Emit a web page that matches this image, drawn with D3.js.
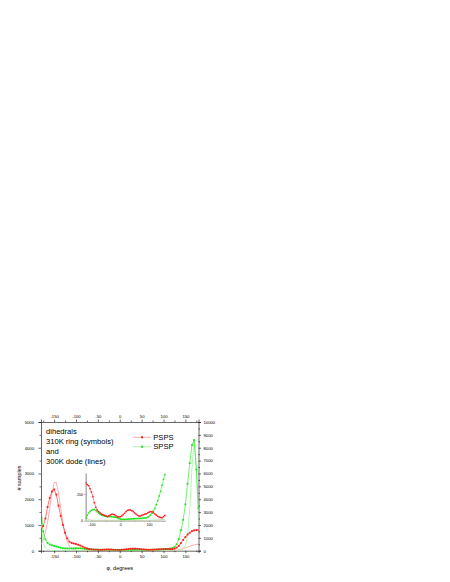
<!DOCTYPE html>
<html>
<head>
<meta charset="utf-8">
<script src="https://cdn.jsdelivr.net/npm/d3@7"></script>
<style>
  body { margin: 0; background: #fff; }
  svg { display: block; font-family: "Liberation Sans", Arial, sans-serif; }
</style>
</head>
<body>
<div id="chart"></div>
<script>
// dihedral angle grid, 5 degree bins
const phi = d3.range(-180, 181, 5);

// 310K ring, symbols
const ringPSPS = [
  800, 960, 1250, 1700, 2050, 2300, 2380, 2180, 1750, 1350,
  1000, 700, 480, 350, 300, 280, 260, 230, 200, 160,
  120, 90, 65, 50, 45, 40, 35, 30, 35, 42,
  48, 48, 44, 36, 30, 28, 30, 36, 45, 55,
  68, 77, 80, 80, 75, 68, 58, 48, 40, 35,
  35, 40, 45, 48, 52, 58, 64, 68, 67, 60,
  60, 80, 120, 190, 300, 420, 530, 630, 700, 760,
  790, 800, 800
];
const ringSPSP = [
  1650, 750, 440, 300, 240, 210, 180, 160, 140, 115,
  95, 90, 85, 85, 88, 92, 96, 96, 92, 84,
  74, 64, 56, 50, 45, 42, 40, 38, 37, 36,
  40, 40, 38, 36, 34, 32, 30, 30, 30, 30,
  30, 32, 34, 35, 36, 36, 36, 36, 36, 36,
  36, 38, 40, 42, 45, 50, 55, 62, 70, 85,
  100, 150, 250, 450, 800, 1200, 1800, 2600, 3400, 4100,
  4300, 3150, 1650
];

// 300K dode, lines
const dodePSPS = [
  250, 420, 700, 1100, 1650, 2250, 2650, 2650, 2250, 1650,
  1100, 650, 350, 180, 90, 45, 25, 15, 10, 8,
  6, 5, 5, 5, 5, 5, 5, 5, 5, 5,
  5, 5, 5, 5, 5, 5, 5, 5, 5, 5,
  5, 5, 5, 5, 5, 5, 5, 5, 5, 5,
  5, 5, 5, 5, 5, 5, 5, 6, 8, 10,
  12, 15, 22, 35, 55, 80, 110, 140, 170, 200,
  225, 245, 250
];
const dodeSPSP = [
  1100, 320, 110, 40, 15, 8, 5, 5, 5, 5,
  5, 5, 5, 5, 5, 5, 5, 5, 5, 5,
  5, 5, 5, 5, 5, 5, 5, 5, 5, 5,
  5, 5, 5, 5, 5, 5, 5, 5, 5, 5,
  5, 5, 5, 5, 5, 5, 5, 5, 5, 5,
  5, 5, 5, 5, 5, 5, 5, 5, 5, 5,
  5, 8, 12, 20, 30, 60, 200, 600, 1600, 3200,
  4300, 3300, 1100
];

// inset (zoom on the low counts)
const insetPhi = d3.range(-120, 156, 5);
const insetPSPS = [
  285, 270, 262, 240, 215, 180, 135, 100, 80, 68,
  58, 50, 45, 40, 35, 30, 35, 42, 48, 48,
  44, 36, 30, 28, 30, 36, 45, 55, 68, 77,
  80, 80, 75, 68, 58, 48, 40, 35, 35, 40,
  45, 48, 52, 58, 64, 68, 67, 60, 50, 42,
  33, 28, 24, 22, 30, 40
];
const insetSPSP = [
  20, 40, 58, 70, 78, 83, 84, 76, 66, 56,
  48, 42, 38, 35, 33, 32, 31, 30, 30, 28,
  27, 25, 22, 16, 12, 10, 10, 10, 10, 11,
  12, 13, 14, 15, 15, 16, 16, 17, 17, 18,
  19, 20, 22, 26, 32, 42, 55, 72, 92, 120,
  150, 185, 220, 265, 310, 345
];
const insetDodePhi = [-120, -115, -110, -100, -80, -40, 0, 40, 80, 120, 140, 155];
const insetDodePSPS = [40, 20, 8, 3, 2, 2, 2, 2, 2, 3, 6, 10];
const insetDodeSPSP = [3, 3, 3, 3, 3, 3, 3, 3, 3, 4, 6, 9];

const xTicks = [-150, -100, -50, 0, 50, 100, 150];
const xMinorTicks = [-175, -125, -75, -25, 25, 75, 125, 175];
const leftTicks = [0, 1000, 2000, 3000, 4000, 5000];
const leftMinor = [500, 1500, 2500, 3500, 4500];
const rightTicks = [0, 1000, 2000, 3000, 4000, 5000, 6000, 7000, 8000, 9000, 10000];
const rightMinor = [500, 1500, 2500, 3500, 4500, 5500, 6500, 7500, 8500, 9500];
const insetXTicks = [-100, 0, 100];
const insetXMinor = [-50, 50, 150];
const insetYTicks = [0, 200];

const noteLines = ["dihedrals", "310K ring (symbols)", "and", "300K dode (lines)"];
const legendNames = ["PSPS", "SPSP"];

const RED = "#ff1a1a", PINK = "#ff9a9a", GREEN = "#19e619", LIGHTGREEN = "#9cf59c";

const width = 450, height = 582;
const plot = { left: 41, right: 198.5, top: 422, bottom: 550.7 };

const svg = d3.select("#chart").append("svg")
  .attr("width", width)
  .attr("height", height);

const x = d3.scaleLinear().domain([-180, 180]).range([plot.left, plot.right]);
const y = d3.scaleLinear().domain([0, 5000]).range([plot.bottom, plot.top]);
const y2 = d3.scaleLinear().domain([0, 10000]).range([plot.bottom, plot.top]);

const defs = svg.append("defs");
defs.append("clipPath").attr("id", "plotclip")
  .append("rect")
  .attr("x", plot.left).attr("y", plot.top)
  .attr("width", plot.right - plot.left).attr("height", plot.bottom - plot.top);

// plain labels: no thousands separator, ascii hyphen for minus
const tickFmt = d => String(d);

function styleAxis(g, size) {
  g.selectAll("path, line").attr("stroke", "#000").attr("stroke-width", 0.6);
  g.selectAll("text").attr("font-size", size).attr("fill", "#000");
}

function addAxis(axis, transform, minor) {
  svg.append("g")
    .attr("transform", transform)
    .call(axis)
    .call(g => {
      styleAxis(g, 4.2);
      if (minor) g.select(".domain").remove();
    });
}

addAxis(d3.axisBottom(x).tickValues(xTicks).tickSize(2.5).tickPadding(2).tickFormat(tickFmt),
  `translate(0,${plot.bottom})`);
addAxis(d3.axisBottom(x).tickValues(xMinorTicks).tickSize(1.5).tickFormat(""),
  `translate(0,${plot.bottom})`, true);
addAxis(d3.axisTop(x).tickValues(xTicks).tickSize(2.5).tickPadding(1.5).tickFormat(tickFmt),
  `translate(0,${plot.top})`);
addAxis(d3.axisTop(x).tickValues(xMinorTicks).tickSize(1.5).tickFormat(""),
  `translate(0,${plot.top})`, true);
addAxis(d3.axisLeft(y).tickValues(leftTicks).tickSize(2.5).tickPadding(4.5).tickFormat(tickFmt),
  `translate(${plot.left},0)`);
addAxis(d3.axisLeft(y).tickValues(leftMinor).tickSize(1.5).tickFormat(""),
  `translate(${plot.left},0)`, true);
addAxis(d3.axisRight(y2).tickValues(rightTicks).tickSize(2.5).tickPadding(2.5).tickFormat(tickFmt),
  `translate(${plot.right},0)`);
addAxis(d3.axisRight(y2).tickValues(rightMinor).tickSize(1.5).tickFormat(""),
  `translate(${plot.right},0)`, true);

// axis titles
svg.append("text")
  .attr("x", x(0)).attr("y", 569.5)
  .attr("text-anchor", "middle")
  .attr("font-size", 5.5)
  .text("φ, degrees");

svg.append("text")
  .attr("transform", `translate(20.5,478) rotate(-90)`)
  .attr("text-anchor", "middle")
  .attr("font-size", 5.5)
  .text("# samples");

// ---- main series
const plotArea = svg.append("g").attr("clip-path", "url(#plotclip)");

function drawLine(g, xs, ys, xScale, yScale, color, w) {
  const line = d3.line()
    .x((d, i) => xScale(xs[i]))
    .y(d => yScale(d));
  g.append("path")
    .datum(ys)
    .attr("fill", "none")
    .attr("stroke", color)
    .attr("stroke-width", w)
    .attr("d", line);
}

function drawSymbols(g, xs, ys, xScale, yScale, color, s) {
  g.append("g").selectAll("rect")
    .data(ys)
    .join("rect")
    .attr("x", (d, i) => xScale(xs[i]) - s / 2)
    .attr("y", d => yScale(d) - s / 2)
    .attr("width", s).attr("height", s)
    .attr("fill", color);
}

drawLine(plotArea, phi, dodePSPS, x, y, PINK, 0.8);
drawLine(plotArea, phi, dodeSPSP, x, y, LIGHTGREEN, 0.8);
drawLine(plotArea, phi, ringSPSP, x, y, GREEN, 0.6);
drawSymbols(plotArea, phi, ringSPSP, x, y, GREEN, 1.8);
drawLine(plotArea, phi, ringPSPS, x, y, RED, 0.6);
drawSymbols(plotArea, phi, ringPSPS, x, y, RED, 1.8);

// ---- annotation and legend
svg.append("g")
  .attr("font-size", 7.6)
  .attr("fill", "#000")
  .selectAll("text")
  .data(noteLines)
  .join("text")
  .attr("x", 46)
  .attr("y", (d, i) => 433.5 + i * 10)
  .text(d => d);

const legend = svg.append("g");
const legendColors = [[PINK, RED], [LIGHTGREEN, GREEN]];
legendNames.forEach((name, i) => {
  const ly = 437.3 + i * 9.4;
  legend.append("line")
    .attr("x1", 133).attr("x2", 151)
    .attr("y1", ly).attr("y2", ly)
    .attr("stroke", legendColors[i][0]).attr("stroke-width", 0.8);
  legend.append("rect")
    .attr("x", 141).attr("y", ly - 1).attr("width", 2).attr("height", 2)
    .attr("fill", legendColors[i][1]);
  legend.append("text")
    .attr("x", 153.3).attr("y", ly + 2.7)
    .attr("font-size", 7.6)
    .attr("fill", "#000")
    .text(name);
});

// ---- inset
const inset = { left: 85.7, right: 165.5, top: 473, bottom: 520.7 };
const xi = d3.scaleLinear().domain([-120, 157]).range([inset.left, inset.right]);
const yi = d3.scaleLinear().domain([0, 357]).range([inset.bottom, inset.top]);

defs.append("clipPath").attr("id", "insetclip")
  .append("rect")
  .attr("x", inset.left).attr("y", inset.top - 2)
  .attr("width", inset.right - inset.left + 2).attr("height", inset.bottom - inset.top + 2);

function styleInsetAxis(g) {
  g.selectAll("path, line").attr("stroke", "#a8a8a8").attr("stroke-width", 1);
  g.selectAll("text").attr("font-size", 3.6).attr("fill", "#000");
}

svg.append("g")
  .attr("transform", `translate(0,${inset.bottom})`)
  .call(d3.axisBottom(xi).tickValues(insetXTicks).tickSize(1.5).tickPadding(1.5).tickSizeOuter(0).tickFormat(tickFmt))
  .call(styleInsetAxis);
svg.append("g")
  .attr("transform", `translate(0,${inset.bottom})`)
  .call(d3.axisBottom(xi).tickValues(insetXMinor).tickSize(1).tickFormat(""))
  .call(g => { styleInsetAxis(g); g.select(".domain").remove(); });
svg.append("g")
  .attr("transform", `translate(${inset.left},0)`)
  .call(d3.axisLeft(yi).tickValues(insetYTicks).tickSize(1.5).tickPadding(1.2).tickSizeOuter(0).tickFormat(tickFmt))
  .call(g => { styleInsetAxis(g); g.select(".domain").attr("stroke-width", 1.4); });

const insetArea = svg.append("g").attr("clip-path", "url(#insetclip)");
drawLine(insetArea, insetDodePhi, insetDodePSPS, xi, yi, PINK, 0.7);
drawLine(insetArea, insetDodePhi, insetDodeSPSP, xi, yi, LIGHTGREEN, 0.7);
drawLine(insetArea, insetPhi, insetSPSP, xi, yi, GREEN, 0.5);
drawSymbols(insetArea, insetPhi, insetSPSP, xi, yi, GREEN, 1.5);
drawLine(insetArea, insetPhi, insetPSPS, xi, yi, RED, 0.5);
drawSymbols(insetArea, insetPhi, insetPSPS, xi, yi, RED, 1.5);
</script>
</body>
</html>
